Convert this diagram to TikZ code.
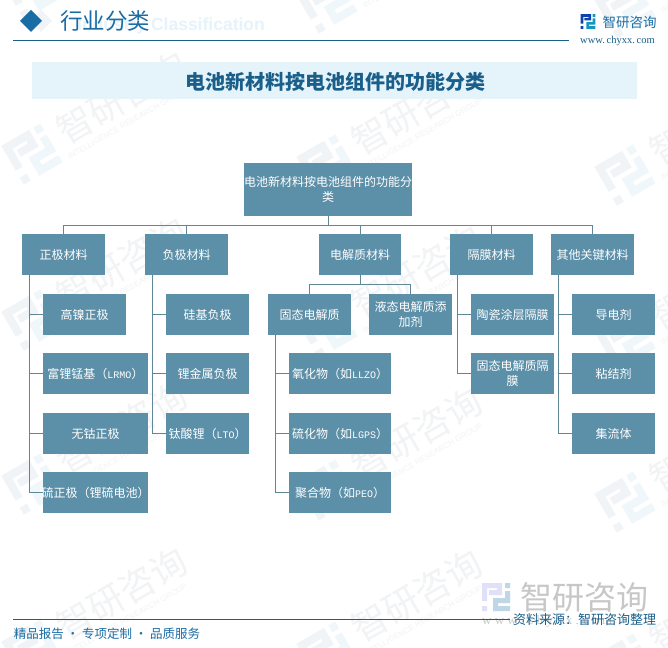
\documentclass[tikz,border=0pt]{standalone}
\usepackage{fontspec}
\setmainfont{Noto Sans CJK SC}
\newfontfamily\latinmono{Liberation Mono}
\newfontfamily\latinsans{Liberation Sans}
\newfontfamily\latinserif{Liberation Serif}
\definecolor{boxc}{HTML}{5C8FA8}
\definecolor{linec}{HTML}{5F8797}
\definecolor{headc}{HTML}{1A6CA5}
\definecolor{rulec}{HTML}{1A5F8A}
\definecolor{bandc}{HTML}{E5F3FB}
\definecolor{wmc}{HTML}{F0F4F7}
\definecolor{wmd}{HTML}{F0F7FB}
\definecolor{wmtxt}{HTML}{F1F3F5}
\tikzset{
  boxn/.style={fill=boxc,text=white,inner sep=0pt,align=center,font=\fontsize{12}{14.5}\selectfont},
  conn/.style={draw=linec,line width=1pt},
  plain/.style={inner sep=0pt,anchor=center},
}
\newcommand{\bx}[6]{\node[boxn,minimum width=#4pt-#2pt,minimum height=#5pt-#3pt] (#1) at ({(#2+#4)/2},{(#3+#5)/2}) {#6};}
\newcommand{\lat}[1]{{\latinmono\fontsize{10}{12}\selectfont #1}}
% logo drawn in a 28x28 box centred at the origin
\newcommand{\logoshape}[2]{%
  \fill[#1] (-14,-14) rectangle (6,-9) (1,-14) rectangle (6,-2) (-7,-7) rectangle (6,-2)
            (-14,-14) rectangle (-9,4) (-14,9) rectangle (-9,14);
  \fill[#2] (9,-14) rectangle (14,-9) (9,-6) rectangle (14,6) (-3,1) rectangle (14,6)
            (-3,1) rectangle (2,14) (-3,9) rectangle (14,14);
}
\newcommand{\wm}[2]{%
  \begin{scope}[shift={(#1,#2)},rotate=30]
    \begin{scope}[scale=1.6] \logoshape{wmc}{wmd} \end{scope}
    \node[plain,rotate=30,text=wmtxt,font=\fontsize{36}{36}\selectfont] (wmt#1x#2) at (106,-4) {智研咨询};
    \node[plain,rotate=30,text=wmtxt,font=\latinsans\fontsize{8}{8}\selectfont] (wmr#1x#2) at (98,21) {INTELLIGENCE RESEARCH GROUP};
  \end{scope}}
\begin{document}
\begin{tikzpicture}[x=1pt,y=-1pt]
\useasboundingbox (0,0) rectangle (668,647);
\fill[white] (0,0) rectangle (668,647);
% watermarks
\foreach \a/\b in {32/-11, 32/154, 32/320, 32/484, 32/650,
                   327/3, 327/165, 327/328, 327/490, 327/652,
                   625/8, 625/175, 625/340, 625/502, 625/664}{\wm{\a}{\b}}
% header
\fill[wmc] (41,10) -- (52,21) -- (41,32) -- (30,21) -- cycle;
\fill[headc] (31,10) -- (42,21) -- (31,32) -- (20,21) -- cycle;
\node[plain,text=bandc,font=\latinsans\bfseries\fontsize{17.5}{17}\selectfont] (entitle) at (171,26) {Industry Classification};
\node[plain,text=headc,font=\fontsize{22.5}{22}\selectfont] (title) at (105,21) {行业分类};
\draw[rulec,line width=1pt] (13,41) -- (569,41);
\begin{scope}[shift={(588,21.5)},scale=0.52] \logoshape{rulec!70!blue}{headc!70!cyan} \end{scope}
\node[plain,text=headc,font=\fontsize{13.5}{14}\selectfont] (brand) at (629.5,22) {智研咨询};
\node[plain,text=rulec,font=\latinserif\fontsize{10.5}{10}\selectfont] (web) at (617.5,41) {www.\,chyxx.\,com};
% band
\fill[bandc] (32,62) rectangle (637,99);
\node[plain,text=rulec,font=\bfseries\fontsize{20}{20}\selectfont] (band) at (335.5,82) {电池新材料按电池组件的功能分类};
% boxes
\bx{root}{244}{163}{412}{216}{电池新材料按电池组件的功能分\\类}
\bx{a}{22}{234}{105}{275}{正极材料}
\bx{b}{145}{234}{228}{275}{负极材料}
\bx{c}{319}{234}{401}{275}{电解质材料}
\bx{d}{450}{234}{533}{275}{隔膜材料}
\bx{e}{551}{234}{634}{275}{其他关键材料}
\bx{a1}{43}{294}{126}{335}{高镍正极}
\bx{a2}{43}{353}{148}{394}{富锂锰基（\lat{LRMO}）}
\bx{a3}{43}{413}{148}{454}{无钴正极}
\bx{a4}{43}{472}{148}{513}{\makebox[105pt][c]{硫正极（锂硫电池）}}
\bx{b1}{166}{294}{249}{335}{硅基负极}
\bx{b2}{166}{353}{249}{394}{锂金属负极}
\bx{b3}{166}{413}{249}{454}{钛酸锂（\lat{LTO}）}
\bx{c1}{268}{294}{351}{335}{固态电解质}
\bx{c2}{369}{294}{452}{335}{液态电解质添\\加剂}
\bx{c11}{289}{353}{391}{394}{氧化物（如\lat{LLZO}）}
\bx{c12}{289}{413}{391}{454}{硫化物（如\lat{LGPS}）}
\bx{c13}{289}{472}{391}{513}{聚合物（如\lat{PEO}）}
\bx{d1}{471}{294}{554}{335}{陶瓷涂层隔膜}
\bx{d2}{471}{353}{554}{394}{固态电解质隔\\膜}
\bx{e1}{572}{294}{655}{335}{导电剂}
\bx{e2}{572}{353}{655}{394}{粘结剂}
\bx{e3}{572}{413}{655}{454}{集流体}
% connectors
\foreach \n in {a,b,c,d,e}{
  \draw[conn] (root.south) -- ++(0,9) -| (\n.north);
}
\foreach \p/\n in {a/a1,a/a2,a/a3,a/a4,b/b1,b/b2,b/b3,d/d1,d/d2,e/e1,e/e2,e/e3}{
  \draw[conn] ([xshift=7.5pt]\p.south west) |- (\n.west);
}
\foreach \n in {c1,c2}{
  \draw[conn] (c.south) -- ++(0,9) -| (\n.north);
}
\foreach \n in {c11,c12,c13}{
  \draw[conn] ([xshift=7.5pt]c1.south west) |- (\n.west);
}
% footer
\begin{scope}[shift={(496,597)}] \logoshape{black!18!blue!12!white}{headc!28} \end{scope}
\node[plain,text=black!22,font=\fontsize{32}{32}\selectfont] (fbrand) at (584,597) {智研咨询};
\node[plain,anchor=west,text=black!22,font=\latinserif\fontsize{13}{13}\selectfont] (fweb) at (482,621) {w w w . c h y x x . c o m};
\draw[rulec,line width=1pt] (13,619) -- (510,619);
\node[plain,text=rulec,font=\fontsize{13}{13}\selectfont] (src) at (584.5,620) {资料来源：智研咨询整理};
\node[plain,text=headc,font=\fontsize{12.5}{13}\selectfont] (foot) at (107,634) {精品报告 · 专项定制 · 品质服务};
\end{tikzpicture}
\end{document}
